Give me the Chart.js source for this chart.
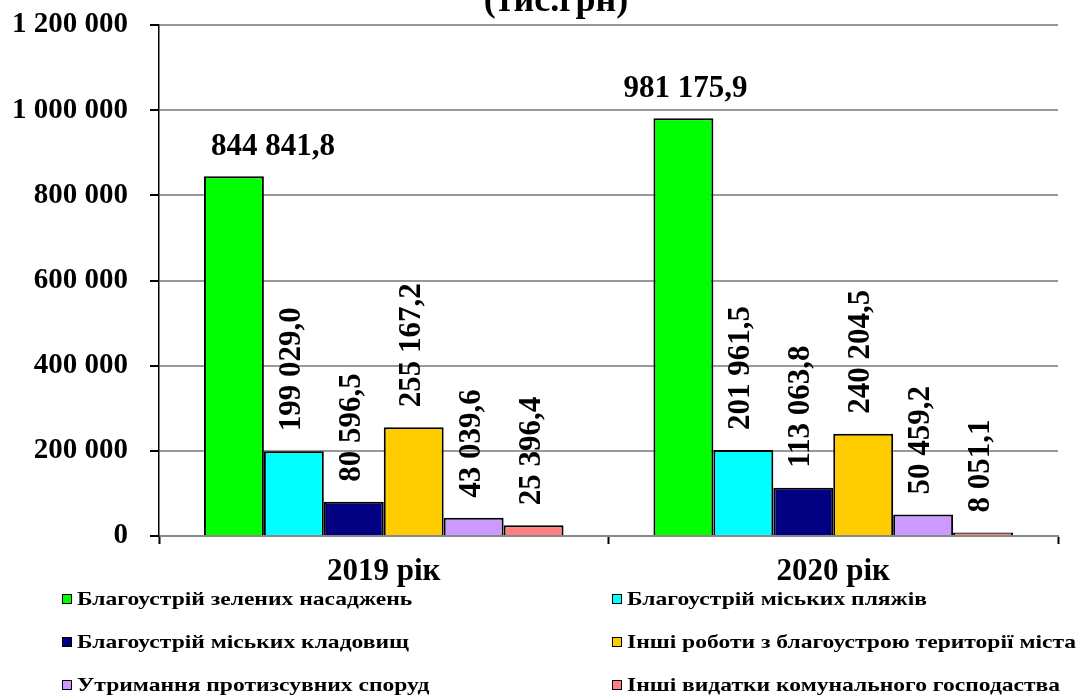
<!DOCTYPE html>
<html>
<head>
<meta charset="utf-8">
<script src="https://cdn.jsdelivr.net/npm/chart.js@4"></script>
<style>
	body { margin: 0; background: #fff; }
	#wrap { position: relative; width: 1084px; height: 699px; overflow: hidden; }
	#legend {
		position: absolute; left: 62px; top: 577px;
		display: grid; grid-template-columns: 550px auto; grid-auto-rows: 43px;
		font: bold 19px 'Liberation Serif', serif; color: #000;
	}
	#legend div { display: flex; align-items: center; white-space: nowrap; }
	#legend span.box {
		display: inline-block; width: 8px; height: 8px; border: 1.5px solid #000; margin-right: 5px;
	}
	#legend span.txt { display: inline-block; transform: scaleX(1.24); transform-origin: left center; }
</style>
</head>
<body>
<div id="wrap">
	<canvas id="chart" width="1084" height="699"></canvas>
	<div id="legend"></div>
</div>
<script>
const years = ['2019 рік', '2020 рік']
const seriesNames = [
	'Благоустрій зелених насаджень',
	'Благоустрій міських пляжів',
	'Благоустрій міських кладовищ',
	'Інші роботи з благоустрою території міста',
	'Утримання протизсувних споруд',
	'Інші видатки комунального господаства',
]
const greenSpaces = [844841.8, 981175.9]
const beaches = [199029.0, 201961.5]
const cemeteries = [80596.5, 113063.8]
const otherWorks = [255167.2, 240204.5]
const landslide = [43039.6, 50459.2]
const otherCosts = [25396.4, 8051.1]
const yTicks = [0, 200000, 400000, 600000, 800000, 1000000, 1200000]

const colors = ['#00FF00', '#00FFFF', '#000080', '#FFCC00', '#CC99FF', '#FF8080']
const values = [greenSpaces, beaches, cemeteries, otherWorks, landslide, otherCosts]
const FONT = "'Liberation Serif', serif"

function spaced(n) {
	return String(n).replace(/\B(?=(\d{3})+(?!\d))/g, ' ')
}
function fmtValue(v) {
	const [a, b] = v.toFixed(1).split('.')
	return spaced(a) + ',' + b
}

// підписи значень над стовпцями і заголовок
const labelsPlugin = {
	id: 'valueLabels',
	afterDatasetsDraw(chart) {
		const ctx = chart.ctx
		ctx.save()
		ctx.fillStyle = '#000'
		ctx.font = 'bold 36px ' + FONT
		ctx.textAlign = 'center'
		ctx.textBaseline = 'alphabetic'
		ctx.fillText('(тис.грн)', 556, 11)

		ctx.font = 'bold 31px ' + FONT
		const greenShift = [39, 2]
		chart.data.datasets.forEach((ds, i) => {
			const meta = chart.getDatasetMeta(i)
			meta.data.forEach((bar, j) => {
				const text = fmtValue(ds.data[j])
				if (i === 0) {
					ctx.textAlign = 'center'
					ctx.textBaseline = 'alphabetic'
					ctx.fillText(text, bar.x + greenShift[j], bar.y - 21)
				} else {
					ctx.save()
					ctx.translate(bar.x - 2, bar.y - 20)
					ctx.rotate(-Math.PI / 2)
					ctx.textAlign = 'left'
					ctx.textBaseline = 'middle'
					ctx.fillText(text, 0, 0)
					ctx.restore()
				}
			})
		})
		ctx.restore()
	},
}

const chart = new Chart(document.getElementById('chart'), {
	type: 'bar',
	data: {
		labels: years,
		datasets: seriesNames.map((name, i) => ({
			label: name,
			data: values[i],
			backgroundColor: colors[i],
			borderColor: '#000',
			borderWidth: 2,
			categoryPercentage: 0.8,
			barPercentage: 1.0,
		})),
	},
	options: {
		responsive: false,
		animation: false,
		layout: { padding: { top: 25, right: 26, left: 0, bottom: 0 } },
		plugins: {
			legend: { display: false },
			tooltip: { enabled: false },
		},
		scales: {
			x: {
				grid: { offset: true, drawOnChartArea: false, tickLength: 8, tickColor: '#000', tickWidth: 2 },
				border: { color: '#888', width: 2 },
				ticks: { color: '#000', padding: 9, font: { family: FONT, size: 31, weight: 'bold' } },
				afterFit: s => { s.height = 163; s.paddingLeft = 0; s.paddingRight = 0 },
			},
			y: {
				min: 0,
				max: 1200000,
				afterBuildTicks: s => { s.ticks = yTicks.map(v => ({ value: v })) },
				grid: { color: '#999', lineWidth: 2, tickColor: '#000', tickLength: 9 },
				border: { color: '#000', width: 1.5 },
				ticks: {
					color: '#000',
					padding: 22,
					font: { family: FONT, size: 29, weight: 'bold' },
					callback: v => spaced(v),
				},
				afterFit: s => { s.width = 159; s.paddingTop = 0; s.paddingBottom = 0 },
			},
		},
	},
	plugins: [labelsPlugin],
})

// легенда у дві колонки
const legend = document.getElementById('legend')
seriesNames.forEach((name, i) => {
	const item = document.createElement('div')
	item.innerHTML = `<span class="box" style="background:${colors[i]}"></span><span class="txt">${name}</span>`
	legend.appendChild(item)
})
</script>
</body>
</html>
